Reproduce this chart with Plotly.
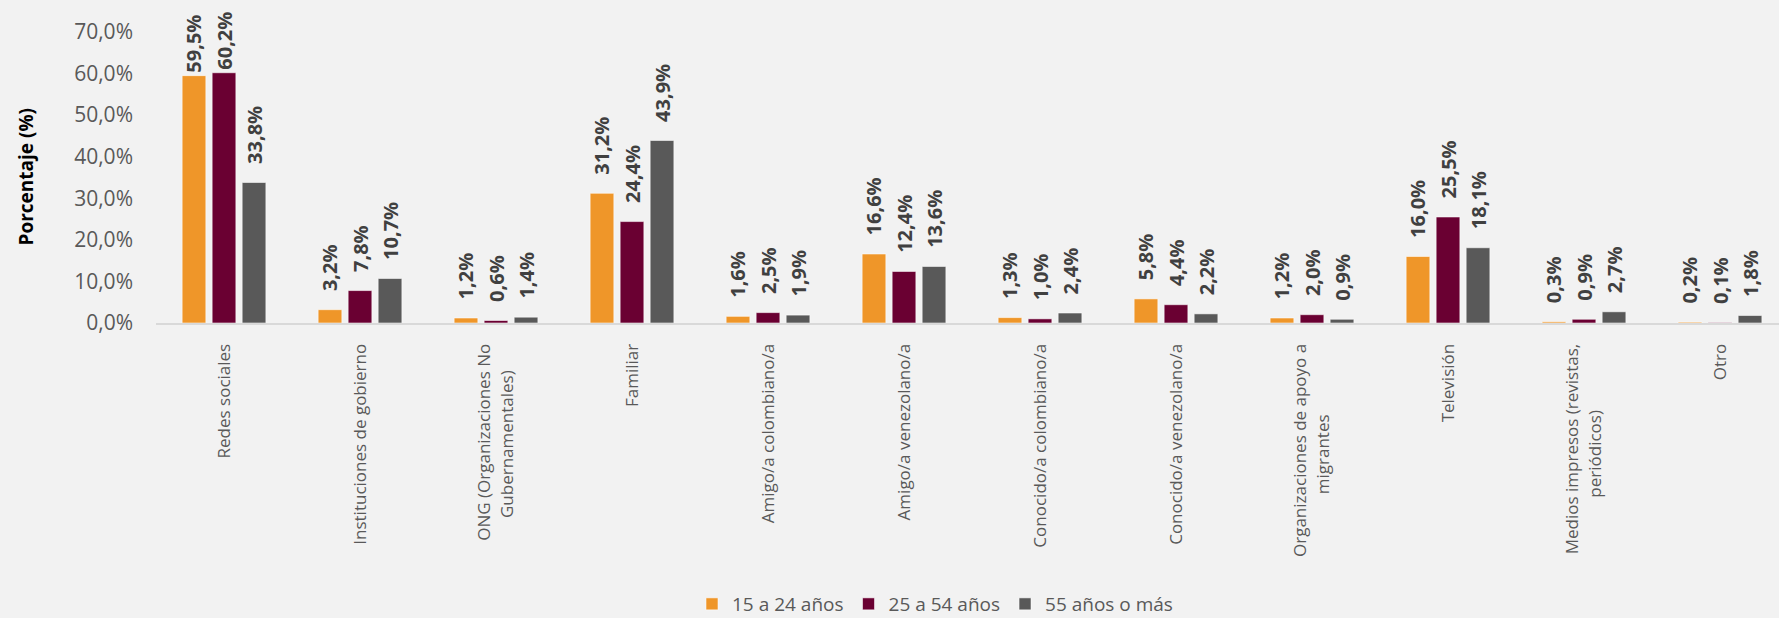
import plotly.graph_objects as go

categories = [
    ["Redes sociales"],
    ["Instituciones de gobierno"],
    ["ONG (Organizaciones No", "Gubernamentales)"],
    ["Familiar"],
    ["Amigo/a colombiano/a"],
    ["Amigo/a venezolano/a"],
    ["Conocido/a colombiano/a"],
    ["Conocido/a venezolano/a"],
    ["Organizaciones de apoyo a", "migrantes"],
    ["Televisión"],
    ["Medios impresos (revistas,", "periódicos)"],
    ["Otro"],
]

series_names = ["15 a 24 años", "25 a 54 años", "55 años o más"]
vals_15_24 = [59.5, 3.2, 1.2, 31.2, 1.6, 16.6, 1.3, 5.8, 1.2, 16.0, 0.3, 0.2]
vals_25_54 = [60.2, 7.8, 0.6, 24.4, 2.5, 12.4, 1.0, 4.4, 2.0, 25.5, 0.9, 0.1]
vals_55 = [33.8, 10.7, 1.4, 43.9, 1.9, 13.6, 2.4, 2.2, 0.9, 18.1, 2.7, 1.8]
colors = ["#EF9629", "#6A0032", "#595959"]

y_ticks = [0, 10, 20, 30, 40, 50, 60, 70]
y_ticktext = [f"{t:.1f}".replace(".", ",") + "%" for t in y_ticks]

W, H = 1779, 618
ML, MR, MT, MB = 156, 0, 32, 295
PLOT_W = W - ML - MR


def tick_label(lines):
    # rotated labels are end-anchored; pad shorter lines so lines appear centred
    longest = max(len(s) for s in lines)
    return "<br>".join(s + "\u00a0" * (longest - len(s)) for s in lines)


ticktext = [tick_label(c) for c in categories]

fig = go.Figure()
for name, vals, col in zip(series_names, [vals_15_24, vals_25_54, vals_55], colors):
    texts = []
    for v in vals:
        s = f"{v:.1f}".replace(".", ",") + "%"
        pad = "" if v > 55 else "\u00a0\u00a0\u00a0"
        texts.append(pad + s)
    fig.add_trace(go.Bar(
        name=name,
        x=list(range(len(categories))),
        y=vals,
        marker=dict(color=col, line=dict(color="rgba(255,255,255,0.55)", width=1)),
        text=texts,
        textposition="outside",
        textangle=-90,
        constraintext="none",
        cliponaxis=False,
        textfont=dict(family="Open Sans", size=20, color="#404040", weight="bold"),
        hoverinfo="skip",
    ))

fig.update_layout(
    width=W, height=H,
    margin=dict(l=ML, r=MR, t=MT, b=MB, pad=0, autoexpand=False),
    paper_bgcolor="#F2F2F2",
    plot_bgcolor="#F2F2F2",
    barmode="group",
    bargap=0.338,
    bargroupgap=0.21,
    font=dict(family="Open Sans", color="#595959"),
    showlegend=True,
    legend=dict(
        orientation="h",
        xref="container", yref="container",
        x=935 / W, xanchor="center",
        y=(H - 604) / H, yanchor="middle",
        font=dict(family="Open Sans", size=19, color="#595959"),
        bgcolor="rgba(0,0,0,0)",
        traceorder="normal",
        itemwidth=30,
    ),
    xaxis=dict(
        range=[-0.5, (W - ML) / 136.0 - 0.5],
        tickmode="array",
        tickvals=list(range(len(categories))),
        ticktext=ticktext,
        tickangle=-90,
        tickfont=dict(family="Open Sans", size=17, color="#595959"),
        showline=True, linecolor="#D9D9D9", linewidth=2,
        showgrid=False, zeroline=False,
        ticks="", ticklabelstandoff=12,
        automargin=False,
    ),
    yaxis=dict(
        range=[0, 70],
        tickmode="array",
        tickvals=y_ticks,
        ticktext=y_ticktext,
        tickfont=dict(family="Open Sans", size=21, color="#595959"),
        showline=False, showgrid=False, zeroline=False,
        ticks="", ticklabelstandoff=22,
        automargin=False,
    ),
    annotations=[dict(
        text="<b>Porcentaje (%)</b>",
        textangle=-90,
        xref="paper", yref="paper",
        x=-(ML - 25) / PLOT_W, y=0.5,
        xanchor="center", yanchor="middle",
        showarrow=False,
        font=dict(family="Open Sans", size=19, color="#000000"),
    )],
)

fig.write_html(
    "out.html",
    config={"displayModeBar": False},
    post_script="document.body.style.margin='0';document.body.style.overflow='hidden';",
)
